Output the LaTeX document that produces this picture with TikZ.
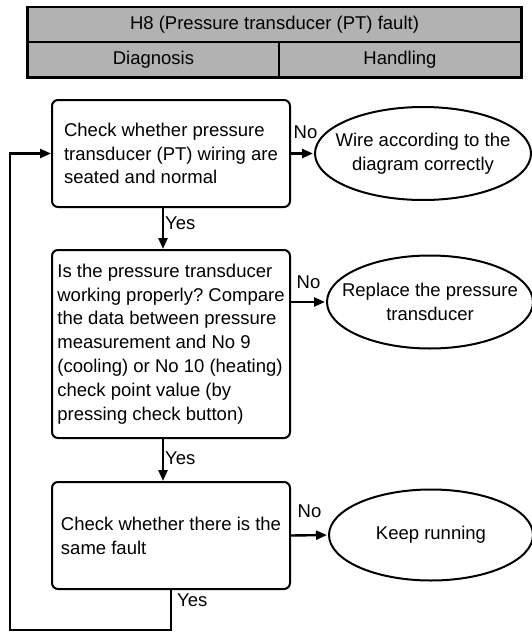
\documentclass[tikz,border=0pt]{standalone}
\usepackage{fontspec}
\setmainfont{Liberation Sans}
\usetikzlibrary{arrows.meta,positioning,calc,shapes.geometric}
\frenchspacing

\begin{document}
\begin{tikzpicture}[x=1pt, y=-1pt,
  every node/.style={font=\fontsize{18.5}{23.8}\selectfont},
  hdr/.style={draw, line width=1.2pt, fill=gray!60, minimum height=35pt, inner sep=0pt},
  step box/.style={draw, line width=2pt, rounded corners=6pt, minimum width=238pt, align=left},
  result/.style={ellipse, draw, line width=2pt, align=center, inner xsep=-20pt, inner ysep=0pt},
  arr/.style={-{Triangle[length=11pt, width=9pt]}, line width=2.4pt},
  lbl/.style={inner sep=1pt},
]
\useasboundingbox (0,0) rectangle (532,634);

% Header table
\node[hdr, minimum width=493pt] (title) at (274.5,25) {H8 (Pressure transducer (PT) fault)};
\node[hdr, minimum width=251pt] (diag) at (153.5,59.5) {Diagnosis};
\node[hdr, minimum width=242pt] (hand) at (400,59.5) {Handling};
\draw[line width=2.6pt] (title.north west) rectangle (hand.south east);

% Diagnosis steps
\node[step box, minimum height=107pt] (chk1) at (171,153.5) {Check whether pressure\\transducer (PT) wiring are\\seated and normal};
\node[step box, minimum height=188pt] (chk2) at (171,344) {Is the pressure transducer\\working properly? Compare\\the data between pressure\\measurement and No 9\\(cooling) or No 10 (heating)\\check point value (by\\pressing check button)};
\node[step box, minimum height=107pt] (chk3) at (171,535.5) {Check whether there is the\\same fault};

% Handling
\node[result, minimum width=216pt, minimum height=93pt] (fix1) at (423,153.5) {Wire according to the\\diagram correctly};
\node[result, minimum width=206pt, minimum height=93pt] (fix2) at (430,302) {Replace the pressure\\transducer};
\node[result, minimum width=204pt, minimum height=91pt] (fix3) at (431,535) {Keep running};

% No branches
\draw[arr, shorten >=1pt] (chk1.east) -- (fix1.west) node[lbl, midway, above=13pt, xshift=3pt] {No};
\draw[arr, shorten >=1pt] (fix2.west -| chk2.east) -- (fix2.west) node[lbl, midway, above=11pt] {No};
\draw[arr, shorten >=1pt] (chk3.east) -- (fix3.west) node[lbl, midway, above=15pt] {No};

% Yes branches
\draw[arr] ([xshift=-8pt]chk1.south) -- ([xshift=-8pt]chk2.north) node[lbl, midway, right, yshift=5pt] {Yes};
\draw[arr] ([xshift=-8pt]chk2.south) -- ([xshift=-8pt]chk3.north) node[lbl, midway, right, yshift=2pt] {Yes};

% Loop back
\coordinate (back) at (10,630);
\draw[arr] (chk3.south) |- (back) |- (chk1.west);
\node[lbl, anchor=west] (yes3) at ([xshift=5pt,yshift=-10pt]chk3.south) {Yes};
\end{tikzpicture}
\end{document}
